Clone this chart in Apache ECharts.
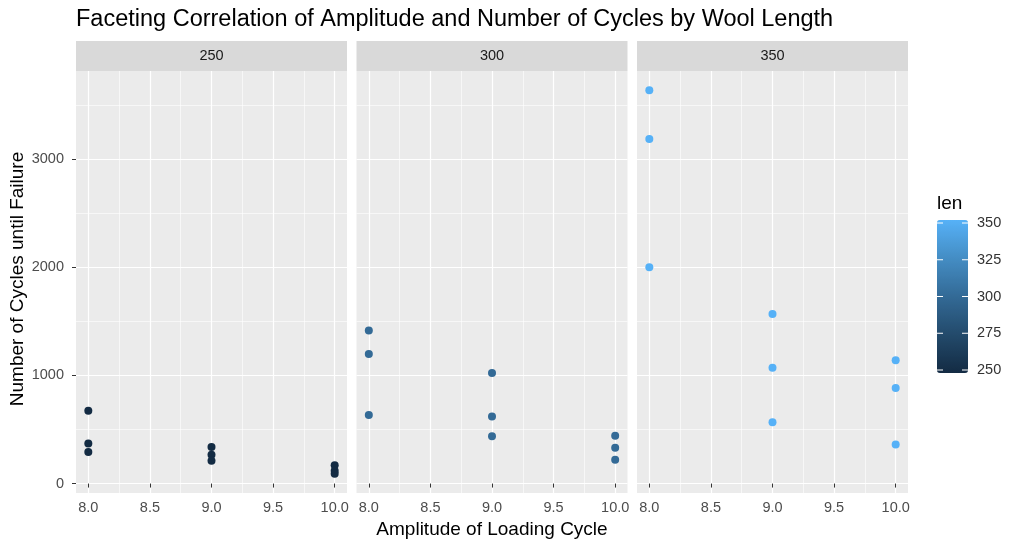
<!DOCTYPE html>
<html>
<head>
<meta charset="utf-8">
<script src="https://cdn.jsdelivr.net/npm/echarts@6/dist/echarts.min.js"></script>
<style>html,body{margin:0;padding:0;background:#fff;}#chart{width:1024px;height:547px;}</style>
</head>
<body>
<div id="chart"></div>
<script>
// ---- data (wool dataset: amplitude vs cycles to failure, faceted by length) ----
const amplitude = [8, 8, 8, 9, 9, 9, 10, 10, 10];
const lengths = [250, 300, 350];
const cycles250 = [674, 370, 292, 338, 266, 210, 170, 118, 90];
const cycles300 = [1414, 1198, 634, 1022, 620, 438, 442, 332, 220];
const cycles350 = [3636, 3184, 2000, 1568, 1070, 566, 1140, 884, 360];
const xTicks = [8, 8.5, 9, 9.5, 10];
const xMinor = [8.25, 8.75, 9.25, 9.75];
const yTicks = [0, 1000, 2000, 3000];
const yMinor = [500, 1500, 2500, 3500];
const legendTicks = [250, 275, 300, 325, 350];

const cyclesByLen = [cycles250, cycles300, cycles350];
const FONT = '"Liberation Sans", Arial, Helvetica, sans-serif';

// layout
const panelLeft = [76, 356.5, 637];
const panelW = 271, panelTop = 71, panelH = 422;
const xMin = 7.9, xMax = 10.1, yMin = -87.3, yMax = 3813.3;

const grids = [], xAxes = [], yAxes = [], series = [], graphics = [];

lengths.forEach((len, i) => {
  grids.push({left: panelLeft[i], top: panelTop, width: panelW, height: panelH,
    show: true, backgroundColor: '#EBEBEB', borderWidth: 0, containLabel: false});
  // main x axis
  xAxes.push({type: 'value', gridIndex: i, min: xMin, max: xMax,
    axisLine: {show: false},
    axisTick: {show: true, customValues: xTicks, length: 4, lineStyle: {color: '#333333', width: 1}},
    axisLabel: {show: true, customValues: xTicks, margin: 7, color: '#4D4D4D', fontSize: 14.5, fontFamily: FONT,
      formatter: v => Number(v).toFixed(1)},
    splitLine: {show: true, lineStyle: {color: '#FFFFFF', width: 1.2}},
    z: 2});
  // minor x axis (for minor grid lines only)
  xAxes.push({type: 'value', gridIndex: i, min: xMin, max: xMax,
    axisLine: {show: false},
    axisTick: {show: false, customValues: xMinor},
    axisLabel: {show: false},
    splitLine: {show: true, lineStyle: {color: '#FFFFFF', width: 0.6}},
    z: 1});
  // main y axis
  yAxes.push({type: 'value', gridIndex: i, min: yMin, max: yMax,
    axisLine: {show: false},
    axisTick: {show: i === 0, customValues: yTicks, length: 4, lineStyle: {color: '#333333', width: 1}},
    axisLabel: {show: i === 0, customValues: yTicks, margin: 12, color: '#4D4D4D', fontSize: 14.5, fontFamily: FONT,
      formatter: v => String(v)},
    splitLine: {show: true, lineStyle: {color: '#FFFFFF', width: 1.2}},
    z: 2});
  // minor y axis
  yAxes.push({type: 'value', gridIndex: i, min: yMin, max: yMax,
    axisLine: {show: false},
    axisTick: {show: false, customValues: yMinor},
    axisLabel: {show: false},
    splitLine: {show: true, lineStyle: {color: '#FFFFFF', width: 0.6}},
    z: 1});

  series.push({
    type: 'scatter', name: String(len),
    xAxisIndex: i * 2, yAxisIndex: i * 2,
    symbol: 'circle', symbolSize: 8,
    data: amplitude.map((a, k) => [a, cyclesByLen[i][k], len]),
    itemStyle: {opacity: 1},
    z: 5
  });

  // facet strip
  graphics.push({type: 'rect', left: panelLeft[i], top: 41,
    shape: {width: panelW, height: 30}, style: {fill: '#D9D9D9'}});
  graphics.push({type: 'text', x: panelLeft[i] + panelW / 2, y: 56,
    style: {text: String(len), fill: '#1A1A1A', font: '14.5px ' + FONT, align: 'center', verticalAlign: 'middle'}});
});

// legend (colorbar) labels & ticks
const barLeft = 937, barTop = 220, barW = 31, barH = 153;
const tickTop = 223, tickBottom = 370;
graphics.push({type: 'text', x: barLeft, y: 204,
  style: {text: 'len', fill: '#000000', font: '19px ' + FONT, align: 'left', verticalAlign: 'middle'}});
legendTicks.forEach(v => {
  const y = tickBottom - (v - legendTicks[0]) / (legendTicks[legendTicks.length - 1] - legendTicks[0]) * (tickBottom - tickTop);
  graphics.push({type: 'text', x: 977, y: y,
    style: {text: String(v), fill: '#333333', font: '14.5px ' + FONT, align: 'left', verticalAlign: 'middle'}, z: 10});
  graphics.push({type: 'line', shape: {x1: barLeft, y1: y, x2: barLeft + 6, y2: y},
    style: {stroke: '#FFFFFF', lineWidth: 1}, z: 10});
  graphics.push({type: 'line', shape: {x1: barLeft + barW - 6, y1: y, x2: barLeft + barW, y2: y},
    style: {stroke: '#FFFFFF', lineWidth: 1}, z: 10});
});

const option = {
  backgroundColor: '#FFFFFF',
  animation: false,
  title: {text: 'Faceting Correlation of Amplitude and Number of Cycles by Wool Length',
    left: 76, top: 8, padding: 0, textStyle: {fontFamily: FONT, fontSize: 23.5, fontWeight: 'normal', color: '#000000'}},
  grid: grids,
  xAxis: xAxes,
  yAxis: yAxes,
  visualMap: {
    type: 'continuous', dimension: 2, seriesIndex: [0, 1, 2],
    min: 250, max: 350, calculable: false, hoverLink: false,
    left: barLeft, top: barTop, itemWidth: barW, itemHeight: barH, padding: 0,
    text: ['', ''], showLabel: false,
    inRange: {color: ['#132B43', '#234A6B', '#336A96', '#448DC4', '#56B1F7']}
  },
  graphic: [
    ...graphics,
    {type: 'text', x: 492, y: 530,
      style: {text: 'Amplitude of Loading Cycle', fill: '#000000', font: '19px ' + FONT, align: 'center', verticalAlign: 'middle'}},
    {type: 'text', x: 18, y: 279, rotation: Math.PI / 2,
      style: {text: 'Number of Cycles until Failure', fill: '#000000', font: '19px ' + FONT, align: 'center', verticalAlign: 'middle'}}
  ],
  series: series
};

const chart = echarts.init(document.getElementById('chart'), null, {renderer: 'canvas'});
chart.setOption(option);
</script>
</body>
</html>
